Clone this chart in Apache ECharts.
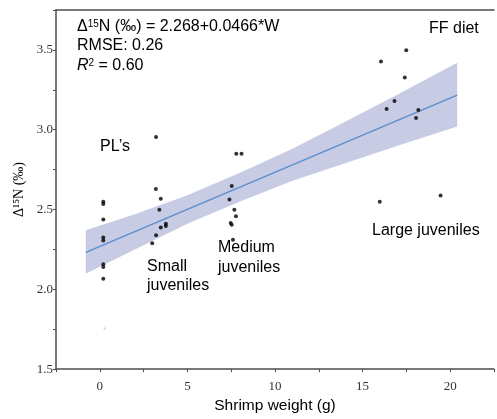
<!DOCTYPE html>
<html>
<head>
<meta charset="utf-8">
<script src="https://cdn.jsdelivr.net/npm/echarts@6/dist/echarts.min.js"></script>
<style>
  html, body { margin: 0; padding: 0; background: #fff; }
  #main { width: 497px; height: 419px; }
</style>
</head>
<body>
<div id="main"></div>
<script>
// scatter points [weight (g), d15N]
var plPoints = [[0.2, 2.548], [0.2, 2.535], [0.2, 2.438], [0.2, 2.325], [0.2, 2.306],
  [0.2, 2.157], [0.2, 2.139], [0.2, 2.066]];
var smallPoints = [[3.21, 2.955], [3.2, 2.628], [3.48, 2.568], [3.4, 2.498], [3.77, 2.411],
  [3.77, 2.397], [3.48, 2.387], [3.21, 2.339], [2.99, 2.289]];
var mediumPoints = [[7.79, 2.85], [8.09, 2.85], [7.53, 2.647], [7.4, 2.562], [7.68, 2.498],
  [7.77, 2.457], [7.47, 2.416], [7.53, 2.405], [7.6, 2.31]];
var largePoints = [[17.49, 3.498], [16.05, 3.428], [17.41, 3.327], [16.82, 3.18], [16.37, 3.13],
  [18.18, 3.124], [18.05, 3.073], [15.98, 2.548], [19.45, 2.587]];
var fadedPoints = [[0.28, 1.754]];

// fitted line and its confidence band
var fitLine = [[-0.8, 2.231], [20.4, 3.217]];
var bandX = [-0.8, 2, 5, 8, 11, 14, 17, 20.4];
var bandUpper = [2.37, 2.47, 2.59, 2.73, 2.88, 3.05, 3.22, 3.42];
var bandLower = [2.097, 2.25, 2.41, 2.55, 2.68, 2.79, 2.90, 3.02];

var chart = echarts.init(document.getElementById('main'));

var serif = '"Liberation Serif", "DejaVu Serif", serif';
var sans = '"Liberation Sans", Arial, sans-serif';
var axisColor = '#4d4d4d';

function textItem(x, y, text, size) {
  return {
    type: 'text',
    left: x,
    top: y,
    style: {
      text: text,
      font: (size || 16) + 'px ' + sans,
      fill: '#000'
    }
  };
}

var option = {
  animation: false,
  backgroundColor: '#fff',
  grid: { left: 56, right: -5, top: 10, bottom: 46 },
  xAxis: [{
    type: 'value',
    min: -2.5,
    max: 22.5,
    interval: 2.5,
    name: 'Shrimp weight (g)',
    nameLocation: 'middle',
    nameGap: 28,
    nameTextStyle: { fontFamily: sans, fontSize: 15.5, color: '#000' },
    splitLine: { show: false },
    axisLine: { onZero: false, lineStyle: { color: axisColor, width: 1.5 } },
    axisTick: { length: 3, lineStyle: { color: axisColor } },
    axisLabel: {
      margin: 11,
      fontFamily: serif,
      fontSize: 13,
      color: '#333',
      formatter: function (v) {
        return (v % 5 === 0 && v >= 0 && v <= 20) ? String(v) : '';
      }
    }
  }, {
    // top border line
    type: 'value',
    position: 'top',
    min: -2.5,
    max: 22.5,
    splitLine: { show: false },
    axisLine: { show: true, onZero: false, lineStyle: { color: axisColor, width: 1.5 } },
    axisTick: { show: false },
    axisLabel: { show: false }
  }],
  yAxis: {
    type: 'value',
    min: 1.5,
    max: 3.75,
    interval: 0.25,
    name: 'Δ¹⁵N (‰)',
    nameLocation: 'middle',
    nameRotate: 90,
    nameGap: 29,
    nameTextStyle: { fontFamily: serif, fontSize: 14, color: '#000' },
    splitLine: { show: false },
    axisLine: { show: true, onZero: false, lineStyle: { color: axisColor, width: 1.5 } },
    axisTick: { length: 3, lineStyle: { color: axisColor } },
    axisLabel: {
      margin: 3,
      fontFamily: serif,
      fontSize: 13,
      color: '#333',
      formatter: function (v) {
        return (Math.abs(v * 2 - Math.round(v * 2)) < 1e-6 && v < 3.6) ? v.toFixed(1) : '';
      }
    }
  },
  graphic: [
    {
      type: 'text',
      left: 77,
      top: 19,
      style: {
        text: 'Δ{sup|15}N (‰) = 2.268+0.0466*W',
        font: '16px ' + sans,
        fill: '#000',
        rich: { sup: { fontSize: 10, fontFamily: sans, padding: [0, 0, 6, 0] } }
      }
    },
    textItem(77, 38, 'RMSE: 0.26'),
    {
      type: 'text',
      left: 77,
      top: 58,
      style: {
        text: '{i|R}{sup|2} = 0.60',
        font: '16px ' + sans,
        fill: '#000',
        rich: {
          i: { fontStyle: 'italic', fontSize: 16, fontFamily: sans },
          sup: { fontSize: 10, fontFamily: sans, padding: [0, 0, 6, 0] }
        }
      }
    },
    textItem(429, 21, 'FF diet'),
    textItem(100, 139, 'PL’s'),
    textItem(147, 259, 'Small'),
    textItem(147, 278, 'juveniles'),
    textItem(218, 240, 'Medium'),
    textItem(218, 260, 'juveniles'),
    textItem(372, 223, 'Large juveniles')
  ],
  series: [
    {
      type: 'custom',
      name: 'band',
      z: 1,
      silent: true,
      data: [[bandX[0], bandLower[0]]],
      renderItem: function (params, api) {
        var pts = [];
        for (var i = 0; i < bandX.length; i++) {
          pts.push(api.coord([bandX[i], bandUpper[i]]));
        }
        for (var j = bandX.length - 1; j >= 0; j--) {
          pts.push(api.coord([bandX[j], bandLower[j]]));
        }
        return {
          type: 'polygon',
          shape: { points: pts },
          style: { fill: '#c7cbe4' }
        };
      }
    },
    {
      type: 'line',
      name: 'fit',
      z: 2,
      data: fitLine,
      showSymbol: false,
      silent: true,
      lineStyle: { color: '#5b8fcc', width: 1.5 }
    },
    {
      type: 'scatter',
      z: 3,
      symbolSize: 4,
      itemStyle: { color: '#000' },
      data: plPoints.concat(smallPoints, mediumPoints, largePoints)
    },
    {
      type: 'scatter',
      z: 3,
      symbolSize: 2.5,
      itemStyle: { color: '#cfcfcf' },
      data: fadedPoints
    }
  ]
};

chart.setOption(option);
</script>
</body>
</html>
